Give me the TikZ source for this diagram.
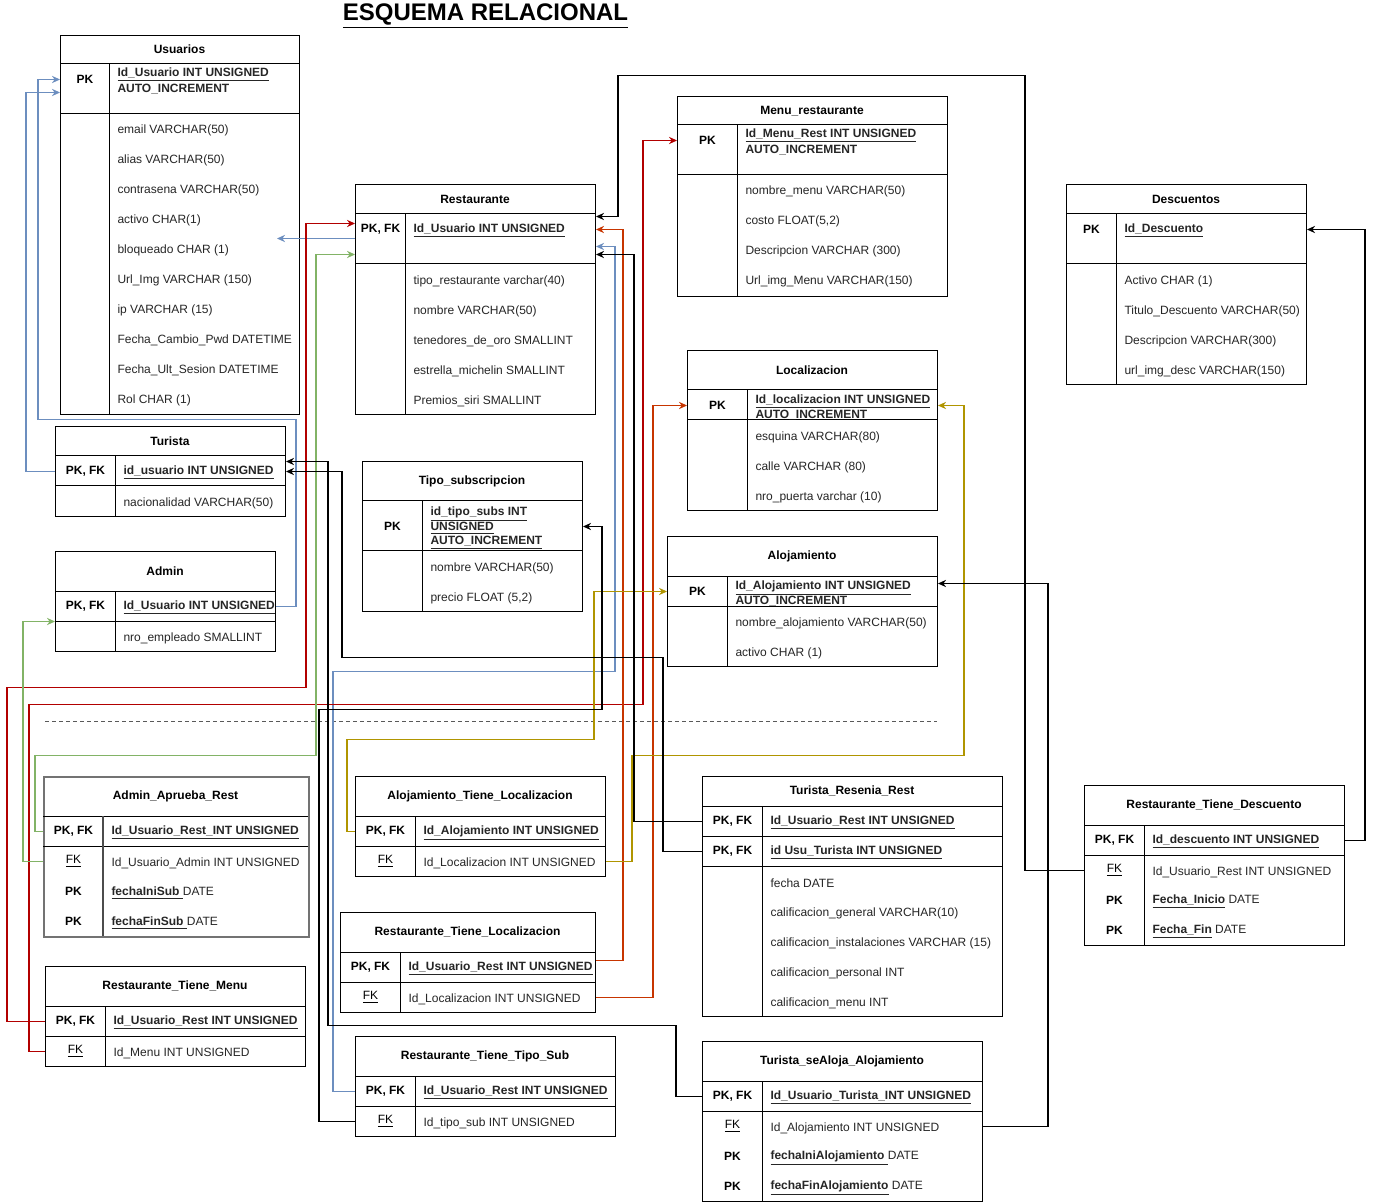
\documentclass[tikz,border=0pt]{standalone}
\usepackage{fontspec}
\setmainfont{Liberation Sans}
\usetikzlibrary{arrows.meta,calc}
\definecolor{lineblue}{HTML}{6C8EBF}
\definecolor{linered}{HTML}{B20000}
\definecolor{lineorange}{HTML}{C73500}
\definecolor{lineolive}{HTML}{B09500}
\definecolor{linegreen}{HTML}{82B366}

\begin{document}
\begin{tikzpicture}[x=0.5pt,y=-0.5pt,line width=0.5pt,
    tabla/.style={draw, anchor=north west, inner sep=0pt},
    titulo/.style={font=\fontsize{6}{7}\selectfont\bfseries},
    clave/.style={anchor=north west, inner sep=0pt, minimum height=15pt, font=\fontsize{6}{7}\selectfont\bfseries},
    ajena/.style={clave, font=\fontsize{6}{7}\selectfont},
    campo/.style={anchor=west, inner sep=0pt, yshift=-1pt, font=\fontsize{6}{7}\selectfont, text=black!85},
    rel/.style={line width=0.7pt, -{Stealth[length=4pt,width=3.6pt]}}]
      \useasboundingbox (0,0) rectangle (1374,1202);
      \fill[white] (0,0) rectangle (1374,1202);
      \node[font=\fontsize{12}{14}\selectfont\bfseries] (esquema) at (485.5,16) {\underline{ESQUEMA RELACIONAL}};

      % Usuarios
      \node[tabla, minimum width=119.5pt, minimum height=189.5pt] (usr) at (60,35) {};
      \draw (60,64) -- (299,64) (60,114) -- (299,114) (109,64) -- (109,414);
      \node[titulo] (usr-t) at (179.5,49) {Usuarios};
      \node[clave, minimum width=24.5pt] (usr-k1) at (60,64) {PK};
      \node[campo] (usr-f1) at (117,73) {\underline{\textbf{Id\_Usuario INT UNSIGNED}}};
      \node[campo] (usr-f2) at (117,87) {\textbf{AUTO\_INCREMENT}};
      \node[campo] (usr-f3) at (117,128) {email VARCHAR(50)};
      \node[campo] (usr-f4) at (117,158) {alias VARCHAR(50)};
      \node[campo] (usr-f5) at (117,188) {contrasena VARCHAR(50)};
      \node[campo] (usr-f6) at (117,218) {activo CHAR(1)};
      \node[campo] (usr-f7) at (117,248) {bloqueado CHAR (1)};
      \node[campo] (usr-f8) at (117,278) {Url\_Img VARCHAR (150)};
      \node[campo] (usr-f9) at (117,308) {ip VARCHAR (15)};
      \node[campo] (usr-f10) at (117,338) {Fecha\_Cambio\_Pwd DATETIME};
      \node[campo] (usr-f11) at (117,368) {Fecha\_Ult\_Sesion DATETIME};
      \node[campo] (usr-f12) at (117,398) {Rol CHAR (1)};

      % Turista
      \node[tabla, minimum width=115pt, minimum height=45pt] (tur) at (55,426) {};
      \draw (55,456) -- (285,456) (55,486) -- (285,486) (115,456) -- (115,516);
      \node[titulo] (tur-t) at (170,441) {Turista};
      \node[clave, minimum width=30pt] (tur-k1) at (55,456) {PK, FK};
      \node[campo] (tur-f1) at (123,471) {\underline{\textbf{id\_usuario INT UNSIGNED}}};
      \node[campo] (tur-f2) at (123,501) {nacionalidad VARCHAR(50)};

      % Admin
      \node[tabla, minimum width=110pt, minimum height=50pt] (adm) at (55,551) {};
      \draw (55,591) -- (275,591) (55,621) -- (275,621) (115,591) -- (115,651);
      \node[titulo] (adm-t) at (165,571) {Admin};
      \node[clave, minimum width=30pt] (adm-k1) at (55,591) {PK, FK};
      \node[campo] (adm-f1) at (123,606) {\underline{\textbf{Id\_Usuario INT UNSIGNED}}};
      \node[campo] (adm-f2) at (123,636) {nro\_empleado SMALLINT};

      % Restaurante
      \node[tabla, minimum width=120pt, minimum height=115pt] (rest) at (355,184) {};
      \draw (355,214) -- (595,214) (355,264) -- (595,264) (405,214) -- (405,414);
      \node[titulo] (rest-t) at (475,199) {Restaurante};
      \node[clave, minimum width=25pt] (rest-k1) at (355,214) {PK, FK};
      \node[campo] (rest-f1) at (413,229) {\underline{\textbf{Id\_Usuario INT UNSIGNED}}};
      \node[campo] (rest-f2) at (413,279) {tipo\_restaurante varchar(40)};
      \node[campo] (rest-f3) at (413,309) {nombre VARCHAR(50)};
      \node[campo] (rest-f4) at (413,339) {tenedores\_de\_oro SMALLINT};
      \node[campo] (rest-f5) at (413,369) {estrella\_michelin SMALLINT};
      \node[campo] (rest-f6) at (413,399) {Premios\_siri SMALLINT};

      % Tipo_subscripcion
      \node[tabla, minimum width=110pt, minimum height=75pt] (tipo) at (362,461) {};
      \draw (362,501) -- (582,501) (362,551) -- (582,551) (422,501) -- (422,611);
      \node[titulo] (tipo-t) at (472,481) {Tipo\_subscripcion};
      \node[clave, minimum width=30pt] (tipo-k1) at (362,511) {PK};
      \node[campo] (tipo-f1) at (430,512) {\underline{\textbf{id\_tipo\_subs INT}}};
      \node[campo] (tipo-f2) at (430,526) {\underline{\textbf{UNSIGNED}}};
      \node[campo] (tipo-f3) at (430,541) {\underline{\textbf{AUTO\_INCREMENT}}};
      \node[campo] (tipo-f4) at (430,566) {nombre VARCHAR(50)};
      \node[campo] (tipo-f5) at (430,596) {precio FLOAT (5,2)};

      % Menu_restaurante
      \node[tabla, minimum width=135pt, minimum height=100pt] (menu) at (677,96) {};
      \draw (677,125) -- (947,125) (677,175) -- (947,175) (737,125) -- (737,296);
      \node[titulo] (menu-t) at (812,111) {Menu\_restaurante};
      \node[clave, minimum width=30pt] (menu-k1) at (677,125) {PK};
      \node[campo] (menu-f1) at (745,134) {\underline{\textbf{Id\_Menu\_Rest INT UNSIGNED}}};
      \node[campo] (menu-f2) at (745,148) {\textbf{AUTO\_INCREMENT}};
      \node[campo] (menu-f3) at (745,189) {nombre\_menu VARCHAR(50)};
      \node[campo] (menu-f4) at (745,219) {costo FLOAT(5,2)};
      \node[campo] (menu-f5) at (745,249) {Descripcion VARCHAR (300)};
      \node[campo] (menu-f6) at (745,279) {Url\_img\_Menu VARCHAR(150)};

      % Localizacion
      \node[tabla, minimum width=125pt, minimum height=80pt] (loc) at (687,350) {};
      \draw (687,390) -- (937,390) (687,420) -- (937,420) (747,390) -- (747,510);
      \node[titulo] (loc-t) at (812,370) {Localizacion};
      \node[clave, minimum width=30pt] (loc-k1) at (687,390) {PK};
      \node[campo] (loc-f1) at (755,400) {\underline{\textbf{Id\_localizacion INT UNSIGNED}}};
      \node[campo] (loc-f2) at (755,413) {\textbf{AUTO\_INCREMENT}};
      \node[campo] (loc-f3) at (755,435) {esquina VARCHAR(80)};
      \node[campo] (loc-f4) at (755,465) {calle VARCHAR (80)};
      \node[campo] (loc-f5) at (755,495) {nro\_puerta varchar (10)};

      % Alojamiento
      \node[tabla, minimum width=135pt, minimum height=65pt] (aloj) at (667,536) {};
      \draw (667,576) -- (937,576) (667,606) -- (937,606) (727,576) -- (727,666);
      \node[titulo] (aloj-t) at (802,556) {Alojamiento};
      \node[clave, minimum width=30pt] (aloj-k1) at (667,576) {PK};
      \node[campo] (aloj-f1) at (735,586) {\underline{\textbf{Id\_Alojamiento INT UNSIGNED}}};
      \node[campo] (aloj-f2) at (735,599) {\textbf{AUTO\_INCREMENT}};
      \node[campo] (aloj-f3) at (735,621) {nombre\_alojamiento VARCHAR(50)};
      \node[campo] (aloj-f4) at (735,651) {activo CHAR (1)};

      % Descuentos
      \node[tabla, minimum width=120pt, minimum height=100pt] (desc) at (1066,184) {};
      \draw (1066,214) -- (1306,214) (1066,264) -- (1306,264) (1116,214) -- (1116,384);
      \node[titulo] (desc-t) at (1186,199) {Descuentos};
      \node[clave, minimum width=25pt] (desc-k1) at (1066,214) {PK};
      \node[campo] (desc-f1) at (1124,229) {\underline{\textbf{Id\_Descuento}}};
      \node[campo] (desc-f2) at (1124,279) {Activo CHAR (1)};
      \node[campo] (desc-f3) at (1124,309) {Titulo\_Descuento VARCHAR(50)};
      \node[campo] (desc-f4) at (1124,339) {Descripcion VARCHAR(300)};
      \node[campo] (desc-f5) at (1124,369) {url\_img\_desc VARCHAR(150)};

      \draw[black!65, dash pattern=on 2pt off 1.5pt] (45,721) -- (937,721);

      % Admin_Aprueba_Rest
      \node[tabla, draw=black!55, line width=1pt, minimum width=132.5pt, minimum height=80pt] (aar) at (43,776) {};
      \draw (43,816) -- (308,816) (43,846) -- (308,846);
      \draw[black!70, line width=0.8pt] (103,816) -- (103,936);
      \node[titulo] (aar-t) at (175.5,796) {Admin\_Aprueba\_Rest};
      \node[clave, minimum width=30pt] (aar-k1) at (43,816) {PK, FK};
      \node[ajena, minimum width=30pt] (aar-k2) at (43,846) {\underline{FK}};
      \node[clave, minimum width=30pt] (aar-k3) at (43,876) {PK};
      \node[clave, minimum width=30pt] (aar-k4) at (43,906) {PK};
      \node[campo] (aar-f1) at (111,831) {\underline{\textbf{Id\_Usuario\_Rest\_INT UNSIGNED}}};
      \node[campo] (aar-f2) at (111,861) {Id\_Usuario\_Admin INT UNSIGNED};
      \node[campo] (aar-f3) at (111,891) {\underline{\textbf{fechaIniSub }}DATE};
      \node[campo] (aar-f4) at (111,921) {\underline{\textbf{fechaFinSub }}DATE};

      % Restaurante_Tiene_Menu
      \node[tabla, minimum width=130pt, minimum height=50pt] (rtm) at (45,966) {};
      \draw (45,1006) -- (305,1006) (45,1036) -- (305,1036) (105,1006) -- (105,1066);
      \node[titulo] (rtm-t) at (175,986) {Restaurante\_Tiene\_Menu};
      \node[clave, minimum width=30pt] (rtm-k1) at (45,1006) {PK, FK};
      \node[ajena, minimum width=30pt] (rtm-k2) at (45,1036) {\underline{FK}};
      \node[campo] (rtm-f1) at (113,1021) {\underline{\textbf{Id\_Usuario\_Rest INT UNSIGNED}}};
      \node[campo] (rtm-f2) at (113,1051) {Id\_Menu INT UNSIGNED};

      % Alojamiento_Tiene_Localizacion
      \node[tabla, minimum width=125pt, minimum height=50pt] (atl) at (355,776) {};
      \draw (355,816) -- (605,816) (355,846) -- (605,846) (415,816) -- (415,876);
      \node[titulo] (atl-t) at (480,796) {Alojamiento\_Tiene\_Localizacion};
      \node[clave, minimum width=30pt] (atl-k1) at (355,816) {PK, FK};
      \node[ajena, minimum width=30pt] (atl-k2) at (355,846) {\underline{FK}};
      \node[campo] (atl-f1) at (423,831) {\underline{\textbf{Id\_Alojamiento INT UNSIGNED}}};
      \node[campo] (atl-f2) at (423,861) {Id\_Localizacion INT UNSIGNED};

      % Restaurante_Tiene_Localizacion
      \node[tabla, minimum width=127.5pt, minimum height=50pt] (rtl) at (340,912) {};
      \draw (340,952) -- (595,952) (340,982) -- (595,982) (400,952) -- (400,1012);
      \node[titulo] (rtl-t) at (467.5,932) {Restaurante\_Tiene\_Localizacion};
      \node[clave, minimum width=30pt] (rtl-k1) at (340,952) {PK, FK};
      \node[ajena, minimum width=30pt] (rtl-k2) at (340,982) {\underline{FK}};
      \node[campo] (rtl-f1) at (408,967) {\underline{\textbf{Id\_Usuario\_Rest INT UNSIGNED}}};
      \node[campo] (rtl-f2) at (408,997) {Id\_Localizacion INT UNSIGNED};

      % Restaurante_Tiene_Tipo_Sub
      \node[tabla, minimum width=130pt, minimum height=50pt] (rts) at (355,1036) {};
      \draw (355,1076) -- (615,1076) (355,1106) -- (615,1106) (415,1076) -- (415,1136);
      \node[titulo] (rts-t) at (485,1056) {Restaurante\_Tiene\_Tipo\_Sub};
      \node[clave, minimum width=30pt] (rts-k1) at (355,1076) {PK, FK};
      \node[ajena, minimum width=30pt] (rts-k2) at (355,1106) {\underline{FK}};
      \node[campo] (rts-f1) at (423,1091) {\underline{\textbf{Id\_Usuario\_Rest INT UNSIGNED}}};
      \node[campo] (rts-f2) at (423,1121) {Id\_tipo\_sub INT UNSIGNED};

      % Turista_Resenia_Rest
      \node[tabla, minimum width=150pt, minimum height=120pt] (trr) at (702,776) {};
      \draw (702,806) -- (1002,806) (702,836) -- (1002,836) (702,866) -- (1002,866) (762,806) -- (762,1016);
      \node[titulo] (trr-t) at (852,791) {Turista\_Resenia\_Rest};
      \node[clave, minimum width=30pt] (trr-k1) at (702,806) {PK, FK};
      \node[clave, minimum width=30pt] (trr-k2) at (702,836) {PK, FK};
      \node[campo] (trr-f1) at (770,821) {\underline{\textbf{Id\_Usuario\_Rest INT UNSIGNED}}};
      \node[campo] (trr-f2) at (770,851) {\underline{\textbf{id Usu\_Turista INT UNSIGNED}}};
      \node[campo] (trr-f3) at (770,881) {fecha DATE};
      \node[campo] (trr-f4) at (770,911) {calificacion\_general VARCHAR(10)};
      \node[campo] (trr-f5) at (770,941) {calificacion\_instalaciones VARCHAR (15)};
      \node[campo] (trr-f6) at (770,971) {calificacion\_personal INT};
      \node[campo] (trr-f7) at (770,1001) {calificacion\_menu INT};

      % Turista_seAloja_Alojamiento
      \node[tabla, minimum width=140pt, minimum height=80pt] (tsa) at (702,1041) {};
      \draw (702,1081) -- (982,1081) (702,1111) -- (982,1111) (762,1081) -- (762,1201);
      \node[titulo] (tsa-t) at (842,1061) {Turista\_seAloja\_Alojamiento};
      \node[clave, minimum width=30pt] (tsa-k1) at (702,1081) {PK, FK};
      \node[ajena, minimum width=30pt] (tsa-k2) at (702,1111) {\underline{FK}};
      \node[clave, minimum width=30pt] (tsa-k3) at (702,1141) {PK};
      \node[clave, minimum width=30pt] (tsa-k4) at (702,1171) {PK};
      \node[campo] (tsa-f1) at (770,1096) {\underline{\textbf{Id\_Usuario\_Turista\_INT UNSIGNED}}};
      \node[campo] (tsa-f2) at (770,1126) {Id\_Alojamiento INT UNSIGNED};
      \node[campo] (tsa-f3) at (770,1156) {\underline{\textbf{fechaIniAlojamiento }}DATE};
      \node[campo] (tsa-f4) at (770,1186) {\underline{\textbf{fechaFinAlojamiento}} DATE};

      % Restaurante_Tiene_Descuento
      \node[tabla, minimum width=130pt, minimum height=80pt] (rtd) at (1084,785) {};
      \draw (1084,825) -- (1344,825) (1084,855) -- (1344,855) (1144,825) -- (1144,945);
      \node[titulo] (rtd-t) at (1214,805) {Restaurante\_Tiene\_Descuento};
      \node[clave, minimum width=30pt] (rtd-k1) at (1084,825) {PK, FK};
      \node[ajena, minimum width=30pt] (rtd-k2) at (1084,855) {\underline{FK}};
      \node[clave, minimum width=30pt] (rtd-k3) at (1084,885) {PK};
      \node[clave, minimum width=30pt] (rtd-k4) at (1084,915) {PK};
      \node[campo] (rtd-f1) at (1152,840) {\underline{\textbf{Id\_descuento INT UNSIGNED}}};
      \node[campo] (rtd-f2) at (1152,870) {Id\_Usuario\_Rest INT UNSIGNED};
      \node[campo] (rtd-f3) at (1152,900) {\underline{\textbf{Fecha\_Inicio}} DATE};
      \node[campo] (rtd-f4) at (1152,930) {\underline{\textbf{Fecha\_Fin}} DATE};

      % relaciones
      \draw[rel, lineblue] (tur-k1.west) -- ++(-29,0) |- ($(usr-k1.west)+(0,13)$);
      \draw[rel, lineblue] (adm.east |- adm-k1) -- ++(20,0) -- ++(0,-187) -- ++(-258,0) |- (usr-k1.west);
      \draw[rel, lineblue] ($(rest-k1.west)+(0,9)$) -- ++(-78,0);
      \draw[rel, lineblue] (rts-k1.west) -- ++(-22,0) -- ++(0,-420) -- ++(282,0) |- ($(rest.east |- rest-k1)+(0,17)$);
      \draw[rel, linered] (rtm-k1.west) -- ++(-38,0) -- ++(0,-334) -- ++(299,0) |- ($(rest-k1.west)+(0,-6)$);
      \draw[rel, linered] (rtm-k2.west) -- ++(-16,0) -- ++(0,-347) -- ++(614,0) |- (menu-k1.west);
      \draw[rel, lineorange] ($(rtl.east |- rtl-k1)+(0,-7)$) -- ++(27,0) |- (rest.east |- rest-k1);
      \draw[rel, lineorange] (rtl.east |- rtl-k2) -- ++(57,0) |- (loc-k1.west);
      \draw[rel, lineolive] (atl-k1.west) -- ++(-8,0) -- ++(0,-92) -- ++(247,0) |- (aloj-k1.west);
      \draw[rel, lineolive] (atl.east |- atl-k2) -- ++(26,0) -- ++(0,-106) -- ++(332,0) |- (loc.east |- loc-k1);
      \draw[rel, linegreen] (aar-k1.west) -- ++(-8,0) -- ++(0,-76) -- ++(281,0) |- ($(rest-k1.west)+(0,25)$);
      \draw[rel, linegreen] (aar-k2.west) -- ++(-20,0) |- ($(adm-k1.west)+(0,15)$);
      \draw[rel] (trr-k1.west) -- ++(-68,0) |- ($(rest.east |- rest-k1)+(0,25)$);
      \draw[rel] (trr-k2.west) -- ++(-39,0) -- ++(0,-194) -- ++(-321,0) |- (tur.east |- tur-k1);
      \draw[rel] (tsa-k1.west) -- ++(-26,0) -- ++(0,-71) -- ++(-348,0) |- ($(tur.east |- tur-k1)+(0,-10)$);
      \draw[rel] (rts-k2.west) -- ++(-36,0) -- ++(0,-412) -- ++(283,0) |- (tipo.east |- tipo-k1);
      \draw[rel] (rtd-k2.west) -- ++(-59,0) -- ++(0,-795) -- ++(-407,0) |- ($(rest.east |- rest-k1)+(0,-13)$);
      \draw[rel] (tsa.east |- tsa-k2) -- ++(65,0) |- ($(aloj.east |- aloj-k1)+(0,-8)$);
      \draw[rel] (rtd.east |- rtd-k1) -- ++(20,0) |- (desc.east |- desc-k1);
    \end{tikzpicture}
\end{document}
